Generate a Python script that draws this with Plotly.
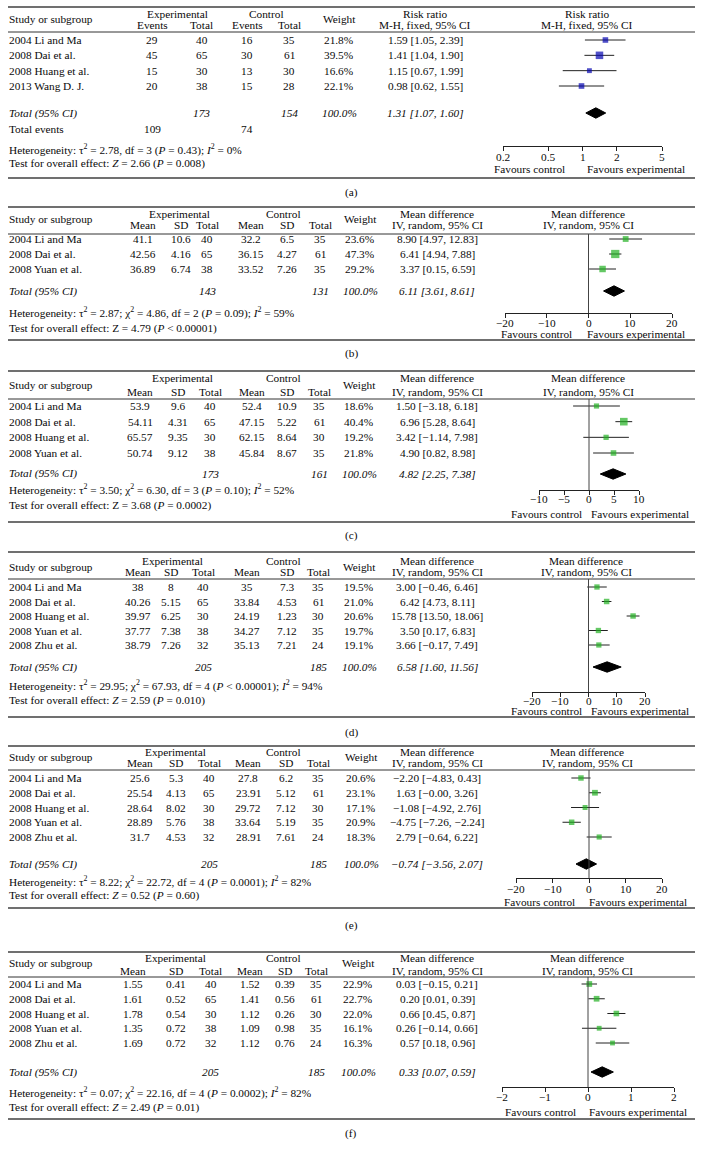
import numpy as np
import plotly.graph_objects as go

W, H = 703, 1156
FONT = "Liberation Serif"
FS = 11.3
MINUS = "\u2212"
BLUE = "#0606B0"
GREEN = "#22B022"

# ---------------- data ----------------
# (a) risk ratio
a_studies = ["2004 Li and Ma", "2008 Dai et al.", "2008 Huang et al.", "2013 Wang D. J."]
a_exp_events = [29, 45, 15, 20]
a_exp_total = [40, 65, 30, 38]
a_ctl_events = [16, 30, 13, 15]
a_ctl_total = [35, 61, 30, 28]
a_weight = [21.8, 39.5, 16.6, 22.1]
a_est = [1.59, 1.41, 1.15, 0.98]
a_lo = [1.05, 1.04, 0.67, 0.62]
a_hi = [2.39, 1.90, 1.99, 1.55]
a_total_n = [173, 154]
a_total_events = [109, 74]
a_pooled = [1.31, 1.07, 1.60]
a_het = "Heterogeneity: τ<sup>2</sup> = 2.78, df = 3 (<i>P</i> = 0.43); <i>I</i><sup>2</sup> = 0%"
a_test = "Test for overall effect: <i>Z</i> = 2.66 (<i>P</i> = 0.008)"
a_ticks = [0.2, 0.5, 1, 2, 5]

# (b) mean difference
b_studies = ["2004 Li and Ma", "2008 Dai et al.", "2008 Yuan et al."]
b_exp_mean = [41.1, 42.56, 36.89]
b_exp_sd = [10.6, 4.16, 6.74]
b_exp_n = [40, 65, 38]
b_ctl_mean = [32.2, 36.15, 33.52]
b_ctl_sd = [6.5, 4.27, 7.26]
b_ctl_n = [35, 61, 35]
b_weight = [23.6, 47.3, 29.2]
b_est = [8.90, 6.41, 3.37]
b_lo = [4.97, 4.94, 0.15]
b_hi = [12.83, 7.88, 6.59]
b_total_n = [143, 131]
b_pooled = [6.11, 3.61, 8.61]
b_het = "Heterogeneity: τ<sup>2</sup> = 2.87; χ<sup>2</sup> = 4.86, df = 2 (<i>P</i> = 0.09); <i>I</i><sup>2</sup> = 59%"
b_test = "Test for overall effect: Z = 4.79 (<i>P</i> &lt; 0.00001)"
b_ticks = [-20, -10, 0, 10, 20]

# (c)
c_studies = ["2004 Li and Ma", "2008 Dai et al.", "2008 Huang et al.", "2008 Yuan et al."]
c_exp_mean = [53.9, 54.11, 65.57, 50.74]
c_exp_sd = [9.6, 4.31, 9.35, 9.12]
c_exp_n = [40, 65, 30, 38]
c_ctl_mean = [52.4, 47.15, 62.15, 45.84]
c_ctl_sd = [10.9, 5.22, 8.64, 8.67]
c_ctl_n = [35, 61, 30, 35]
c_weight = [18.6, 40.4, 19.2, 21.8]
c_est = [1.50, 6.96, 3.42, 4.90]
c_lo = [-3.18, 5.28, -1.14, 0.82]
c_hi = [6.18, 8.64, 7.98, 8.98]
c_total_n = [173, 161]
c_pooled = [4.82, 2.25, 7.38]
c_het = "Heterogeneity: τ<sup>2</sup> = 3.50; χ<sup>2</sup> = 6.30, df = 3 (<i>P</i> = 0.10); <i>I</i><sup>2</sup> = 52%"
c_test = "Test for overall effect: Z = 3.68 (<i>P</i> = 0.0002)"
c_ticks = [-10, -5, 0, 5, 10]

# (d)
d_studies = ["2004 Li and Ma", "2008 Dai et al.", "2008 Huang et al.", "2008 Yuan et al.", "2008 Zhu et al."]
d_exp_mean = [38, 40.26, 39.97, 37.77, 38.79]
d_exp_sd = [8, 5.15, 6.25, 7.38, 7.26]
d_exp_n = [40, 65, 30, 38, 32]
d_ctl_mean = [35, 33.84, 24.19, 34.27, 35.13]
d_ctl_sd = [7.3, 4.53, 1.23, 7.12, 7.21]
d_ctl_n = [35, 61, 30, 35, 24]
d_weight = [19.5, 21.0, 20.6, 19.7, 19.1]
d_est = [3.00, 6.42, 15.78, 3.50, 3.66]
d_lo = [-0.46, 4.73, 13.50, 0.17, -0.17]
d_hi = [6.46, 8.11, 18.06, 6.83, 7.49]
d_total_n = [205, 185]
d_pooled = [6.58, 1.60, 11.56]
d_het = "Heterogeneity: τ<sup>2</sup> = 29.95; χ<sup>2</sup> = 67.93, df = 4 (<i>P</i> &lt; 0.00001); <i>I</i><sup>2</sup> = 94%"
d_test = "Test for overall effect: <i>Z</i> = 2.59 (<i>P</i> = 0.010)"
d_ticks = [-20, -10, 0, 10, 20]

# (e)
e_studies = ["2004 Li and Ma", "2008 Dai et al.", "2008 Huang et al.", "2008 Yuan et al.", "2008 Zhu et al."]
e_exp_mean = [25.6, 25.54, 28.64, 28.89, 31.7]
e_exp_sd = [5.3, 4.13, 8.02, 5.76, 4.53]
e_exp_n = [40, 65, 30, 38, 32]
e_ctl_mean = [27.8, 23.91, 29.72, 33.64, 28.91]
e_ctl_sd = [6.2, 5.12, 7.12, 5.19, 7.61]
e_ctl_n = [35, 61, 30, 35, 24]
e_weight = [20.6, 23.1, 17.1, 20.9, 18.3]
e_est = [-2.20, 1.63, -1.08, -4.75, 2.79]
e_lo = [-4.83, -0.0, -4.92, -7.26, -0.64]
e_hi = [0.43, 3.26, 2.76, -2.24, 6.22]
e_total_n = [205, 185]
e_pooled = [-0.74, -3.56, 2.07]
e_het = "Heterogeneity: τ<sup>2</sup> = 8.22; χ<sup>2</sup> = 22.72, df = 4 (<i>P</i> = 0.0001); <i>I</i><sup>2</sup> = 82%"
e_test = "Test for overall effect: <i>Z</i> = 0.52 (<i>P</i> = 0.60)"
e_ticks = [-20, -10, 0, 10, 20]

# (f)
f_studies = ["2004 Li and Ma", "2008 Dai et al.", "2008 Huang et al.", "2008 Yuan et al.", "2008 Zhu et al."]
f_exp_mean = [1.55, 1.61, 1.78, 1.35, 1.69]
f_exp_sd = [0.41, 0.52, 0.54, 0.72, 0.72]
f_exp_n = [40, 65, 30, 38, 32]
f_ctl_mean = [1.52, 1.41, 1.12, 1.09, 1.12]
f_ctl_sd = [0.39, 0.56, 0.26, 0.98, 0.76]
f_ctl_n = [35, 61, 30, 35, 24]
f_weight = [22.9, 22.7, 22.0, 16.1, 16.3]
f_est = [0.03, 0.20, 0.66, 0.26, 0.57]
f_lo = [-0.15, 0.01, 0.45, -0.14, 0.18]
f_hi = [0.21, 0.39, 0.87, 0.66, 0.96]
f_total_n = [205, 185]
f_pooled = [0.33, 0.07, 0.59]
f_het = "Heterogeneity: τ<sup>2</sup> = 0.07; χ<sup>2</sup> = 22.16, df = 4 (<i>P</i> = 0.0002); <i>I</i><sup>2</sup> = 82%"
f_test = "Test for overall effect: <i>Z</i> = 2.49 (<i>P</i> = 0.01)"
f_ticks = [-2, -1, 0, 1, 2]

TOTAL_WEIGHT = "100.0%"

# ---------------- layout positions (pixels) ----------------
POS = [
    dict(top=7, h1=14, h2=25, hmid=19, hline=32, r0=40, r1=86, total=113, tev=129, het=149, test=164,
         axis=146, tl=157, fav=169, bottom=178, label=192, colx=[152, 202, 247, 289], exp_c=177, ctl_c=266,
         wx=339, eff=425, rhdr=587, dom=[503, 662], favL=566, favR=586),
    dict(top=207, h1=214, h2=225, hmid=219, hline=234, r0=239, r1=269, total=291, het=312, test=328,
         axis=313, tl=323, fav=334, bottom=340, label=354, colx=[143, 181, 207, 251, 287, 320], exp_c=179, ctl_c=283,
         wx=360, eff=437, rhdr=588, dom=[505, 672], favL=573, favR=586),
    dict(top=371, h1=378, h2=392, hmid=385, hline=399, r0=406, r1=453, total=474, het=490, test=505,
         axis=490, tl=499, fav=514, bottom=522, label=535, colx=[140, 178, 210, 252, 287, 319], exp_c=182, ctl_c=283,
         wx=359, eff=437, rhdr=588, dom=[539, 639], favL=583, favR=590),
    dict(top=552, h1=561, h2=572, hmid=567, hline=579, r0=587, r1=645, total=667, het=685, test=700,
         axis=692, tl=701, fav=711, bottom=717, label=732, colx=[138, 171, 203, 247, 287, 318], exp_c=172, ctl_c=283,
         wx=359, eff=437, rhdr=586, dom=[532, 645], favL=583, favR=590),
    dict(top=746, h1=752, h2=763, hmid=757, hline=770, r0=778, r1=837, total=864, het=881, test=895,
         axis=878, tl=889, fav=902, bottom=908, label=925, colx=[140, 176, 209, 248, 286, 318], exp_c=175, ctl_c=283,
         wx=361, eff=437, rhdr=587, dom=[516, 662], favL=576, favR=588),
    dict(top=952, h1=958, h2=971, hmid=963, hline=977, r0=984, r1=1043, total=1072, het=1092, test=1107,
         axis=1087, tl=1097, fav=1112, bottom=1119, label=1133, colx=[133, 176, 211, 250, 285, 316], exp_c=175, ctl_c=283,
         wx=358, eff=437, rhdr=587, dom=[502, 674], favL=577, favR=588),
]

PANELS = [
    dict(name="(a)", kind="RR", studies=a_studies,
         cols=[a_exp_events, a_exp_total, a_ctl_events, a_ctl_total],
         weight=a_weight, est=a_est, lo=a_lo, hi=a_hi, total_n=a_total_n, pooled=a_pooled,
         het=a_het, test=a_test, ticks=a_ticks, color=BLUE, null=1),
    dict(name="(b)", kind="MD", studies=b_studies,
         cols=[b_exp_mean, b_exp_sd, b_exp_n, b_ctl_mean, b_ctl_sd, b_ctl_n],
         weight=b_weight, est=b_est, lo=b_lo, hi=b_hi, total_n=b_total_n, pooled=b_pooled,
         het=b_het, test=b_test, ticks=b_ticks, color=GREEN, null=0),
    dict(name="(c)", kind="MD", studies=c_studies,
         cols=[c_exp_mean, c_exp_sd, c_exp_n, c_ctl_mean, c_ctl_sd, c_ctl_n],
         weight=c_weight, est=c_est, lo=c_lo, hi=c_hi, total_n=c_total_n, pooled=c_pooled,
         het=c_het, test=c_test, ticks=c_ticks, color=GREEN, null=0),
    dict(name="(d)", kind="MD", studies=d_studies,
         cols=[d_exp_mean, d_exp_sd, d_exp_n, d_ctl_mean, d_ctl_sd, d_ctl_n],
         weight=d_weight, est=d_est, lo=d_lo, hi=d_hi, total_n=d_total_n, pooled=d_pooled,
         het=d_het, test=d_test, ticks=d_ticks, color=GREEN, null=0),
    dict(name="(e)", kind="MD", studies=e_studies,
         cols=[e_exp_mean, e_exp_sd, e_exp_n, e_ctl_mean, e_ctl_sd, e_ctl_n],
         weight=e_weight, est=e_est, lo=e_lo, hi=e_hi, total_n=e_total_n, pooled=e_pooled,
         het=e_het, test=e_test, ticks=e_ticks, color=GREEN, null=0),
    dict(name="(f)", kind="MD", studies=f_studies,
         cols=[f_exp_mean, f_exp_sd, f_exp_n, f_ctl_mean, f_ctl_sd, f_ctl_n],
         weight=f_weight, est=f_est, lo=f_lo, hi=f_hi, total_n=f_total_n, pooled=f_pooled,
         het=f_het, test=f_test, ticks=f_ticks, color=GREEN, null=0),
]


def fmt_num(v):
    return f"{v:g}"


def fmt_ci(e, l, h):
    return f"{e:.2f} [{l:.2f}, {h:.2f}]".replace("-", MINUS)


def fmt_tick(v):
    return f"{v:g}".replace("-", MINUS)


annotations = []
shapes = []
TXT_COLOR = "#0a0a0a"


def txt(x, y, s, anchor="center", italic=False, size=FS):
    if italic:
        s = f"<i>{s}</i>"
    annotations.append(dict(x=x / W, y=1 - y / H, xref="paper", yref="paper", text=s,
                            showarrow=False, xanchor=anchor, yanchor="middle", borderpad=0,
                            font=dict(family=FONT, size=size, color=TXT_COLOR)))


def hrule(y, width, color):
    shapes.append(dict(type="line", xref="paper", yref="paper", x0=8 / W, x1=695 / W,
                       y0=1 - y / H, y1=1 - y / H, line=dict(color=color, width=width)))


fig = go.Figure()
layout_axes = {}
LEFT = 8

for k, (P, L) in enumerate(zip(PANELS, POS), start=1):
    n = len(P["studies"])
    hrule(L["top"], 1.8, "#707070")
    hrule(L["hline"], 1, "#333333")
    hrule(L["bottom"], 1.8, "#707070")

    txt(LEFT, L["hmid"], "Study or subgroup", "left")
    txt(L["exp_c"], L["h1"], "Experimental")
    txt(L["ctl_c"], L["h1"], "Control")
    if P["kind"] == "RR":
        subs = ["Events", "Total", "Events", "Total"]
        h_a, h_b = "Risk ratio", "M-H, fixed, 95% CI"
    else:
        subs = ["Mean", "SD", "Total", "Mean", "SD", "Total"]
        h_a, h_b = "Mean difference", "IV, random, 95% CI"
    for cx, s in zip(L["colx"], subs):
        txt(cx, L["h2"], s)
    txt(L["wx"], L["hmid"], "Weight")
    txt(L["eff"], L["h1"], h_a)
    txt(L["eff"], L["h2"], h_b)
    txt(L["rhdr"], L["h1"], h_a)
    txt(L["rhdr"], L["h2"], h_b)

    pitch = (L["r1"] - L["r0"]) / (n - 1)
    for i in range(n):
        ry = L["r0"] + i * pitch
        txt(LEFT, ry, P["studies"][i], "left")
        for cx, col in zip(L["colx"], P["cols"]):
            txt(cx, ry, fmt_num(col[i]))
        txt(L["wx"], ry, f"{P['weight'][i]:.1f}%")
        txt(L["eff"], ry, fmt_ci(P["est"][i], P["lo"][i], P["hi"][i]))

    txt(LEFT, L["total"], "Total (95% CI)", "left", italic=True)
    ncol = len(L["colx"])
    txt(L["colx"][ncol // 2 - 1], L["total"], str(P["total_n"][0]), italic=True)
    txt(L["colx"][ncol - 1], L["total"], str(P["total_n"][1]), italic=True)
    txt(L["wx"], L["total"], TOTAL_WEIGHT, italic=True)
    txt(L["eff"], L["total"], fmt_ci(*P["pooled"]), italic=True)
    if P["kind"] == "RR":
        txt(LEFT, L["tev"], "Total events", "left")
        txt(L["colx"][0], L["tev"], str(a_total_events[0]))
        txt(L["colx"][2], L["tev"], str(a_total_events[1]))
    txt(LEFT, L["het"], P["het"], "left")
    txt(LEFT, L["test"], P["test"], "left")
    txt(L["favL"], L["fav"], "Favours control", "right")
    txt(L["favR"], L["fav"], "Favours experimental", "left")
    txt(351, L["label"], P["name"])

    # ---- forest plot ----
    xa = f"x{k}" if k > 1 else "x"
    ya = f"y{k}" if k > 1 else "y"
    t_idx = (L["total"] - L["r0"]) / pitch
    bot_idx = (L["axis"] - L["r0"]) / pitch
    top_idx = (L["hline"] - L["r0"]) / pitch
    idx = list(range(n))

    cx_, cy_ = [], []
    for i in idx:
        cx_ += [P["lo"][i], P["hi"][i], None]
        cy_ += [i, i, None]
    fig.add_trace(go.Scatter(x=cx_, y=cy_, mode="lines", line=dict(color="#222", width=1),
                             xaxis=xa, yaxis=ya, showlegend=False, hoverinfo="skip"))
    fig.add_trace(go.Scatter(x=P["est"], y=idx, mode="markers",
                             marker=dict(symbol="square", color=P["color"],
                                         size=[1.2 * np.sqrt(w) for w in P["weight"]],
                                         line=dict(width=0)),
                             xaxis=xa, yaxis=ya, showlegend=False))
    est, lo, hi = P["pooled"]
    hh = 5.2 / pitch
    fig.add_trace(go.Scatter(x=[lo, est, hi, est, lo], y=[t_idx, t_idx - hh, t_idx, t_idx + hh, t_idx],
                             mode="lines", fill="toself", fillcolor="black",
                             line=dict(color="black", width=1),
                             xaxis=xa, yaxis=ya, showlegend=False))

    is_log = P["kind"] == "RR"
    ticks = P["ticks"]
    xr = [np.log10(ticks[0]), np.log10(ticks[-1])] if is_log else [ticks[0], ticks[-1]]
    layout_axes["xaxis" if k == 1 else f"xaxis{k}"] = dict(
        domain=[L["dom"][0] / W, L["dom"][1] / W], anchor=ya, type="log" if is_log else "linear",
        range=xr, showline=True, linecolor="#222", linewidth=1, ticks="outside", ticklen=4,
        tickcolor="#222", tickvals=ticks, showticklabels=False,
        showgrid=False, zeroline=False, fixedrange=True)
    layout_axes["yaxis" if k == 1 else f"yaxis{k}"] = dict(
        domain=[1 - L["axis"] / H, 1 - L["hline"] / H], anchor=xa, range=[bot_idx, top_idx],
        visible=False, showgrid=False, zeroline=False, fixedrange=True)
    nx = np.log10(P["null"]) if is_log else P["null"]
    shapes.append(dict(type="line", xref=xa, yref=f"{ya} domain", x0=nx, x1=nx, y0=0, y1=1,
                       line=dict(color="#444", width=1)))
    for t in ticks:
        annotations.append(dict(x=np.log10(t) if is_log else t, xref=xa, y=1 - L["tl"] / H, yref="paper",
                                text=fmt_tick(t), showarrow=False, xanchor="center", yanchor="middle",
                                borderpad=0, font=dict(family=FONT, size=FS, color=TXT_COLOR)))

fig.update_layout(width=W, height=H, margin=dict(l=0, r=0, t=0, b=0),
                  paper_bgcolor="white", plot_bgcolor="white",
                  annotations=annotations, shapes=shapes, showlegend=False,
                  font=dict(family=FONT, size=FS, color=TXT_COLOR), **layout_axes)
fig.write_html("out.html", config={"displayModeBar": False, "staticPlot": True},
               post_script="document.body.style.margin='0px';")
